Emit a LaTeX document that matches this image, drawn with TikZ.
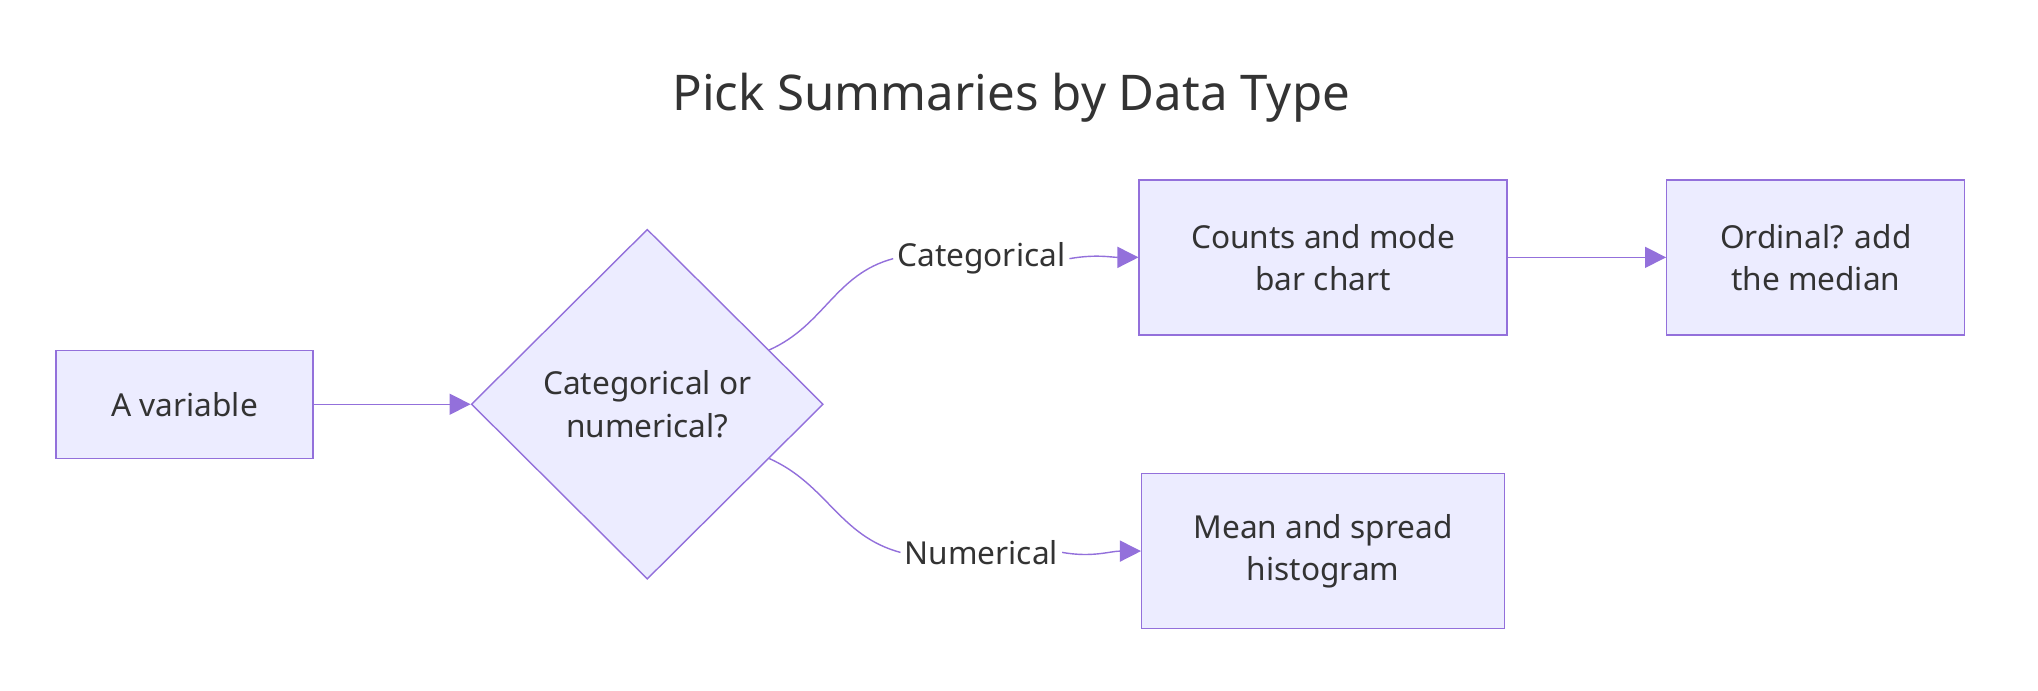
\documentclass[tikz,border=0pt]{standalone}
\usepackage{fontspec}
\setmainfont{Noto Sans}
\usetikzlibrary{shapes.geometric,arrows.meta}
\definecolor{boxfill}{HTML}{ECECFF}
\definecolor{boxline}{HTML}{9370DB}
\definecolor{ink}{HTML}{333333}
\begin{document}
\begin{tikzpicture}[x=0.013cm,y=-0.013cm,font=\fontsize{9}{12}\selectfont,text=ink]
\tikzstyle{block}=[rectangle,draw=boxline,fill=boxfill,align=center,minimum height=1.55cm]
\tikzstyle{choice}=[diamond,draw=boxline,fill=boxfill,align=center,minimum width=3.52cm,minimum height=3.5cm,inner sep=0pt]
\tikzstyle{flow}=[draw=boxline,-{Triangle[length=6pt,width=6pt]}]
\tikzstyle{tag}=[fill=white,inner sep=1pt]
\useasboundingbox (0,0) rectangle (1568,531);

\node[font=\bfseries\fontsize{14}{17}\selectfont] (title) at (778,75) {Pick Summaries by Data Type};
\node[block,minimum width=2.57cm,minimum height=1.08cm] (var) at (142,311) {A variable};
\node[choice] (kind) at (498,311) {Categorical or\\numerical?};
\node[block,minimum width=3.68cm] (counts) at (1018,198) {Counts and mode\\bar chart};
\node[block,minimum width=2.98cm] (ordinal) at (1397,198) {Ordinal? add\\the median};
\node[block,minimum width=3.63cm] (mean) at (1018,424) {Mean and spread\\histogram};
\node[tag] (cat) at (755,199) {Categorical};
\node[tag] (num) at (755,425) {Numerical};

\draw[flow] (var) -- (kind);
\draw[draw=boxline] (kind.24) to[out=24,in=195] (cat.west);
\draw[flow] (cat.east) to[out=10,in=180] (counts.west);
\draw[draw=boxline] (kind.-24) to[out=-24,in=165] (num.west);
\draw[flow] (num.east) to[out=-10,in=180] (mean.west);
\draw[flow] (counts) -- (ordinal);
\end{tikzpicture}
\end{document}
